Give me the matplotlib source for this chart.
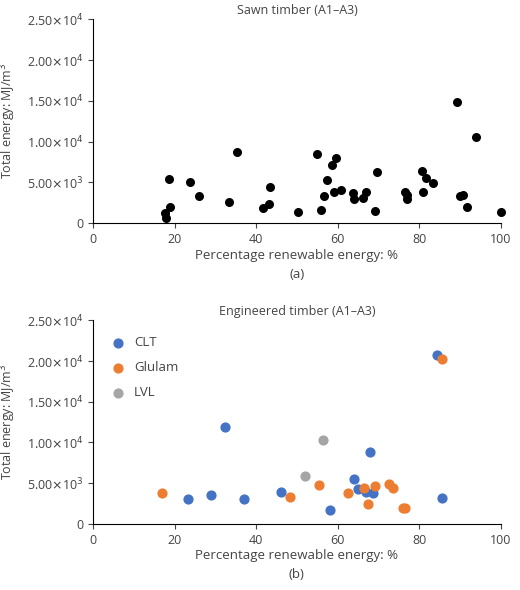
import matplotlib
matplotlib.use('Agg')
import matplotlib.pyplot as plt
from matplotlib.ticker import FuncFormatter

plt.rcParams['font.family'] = ['Open Sans', 'DejaVu Sans']

# Sawn timber
sawn_x = [17.7, 18.0, 18.7, 18.9, 23.7, 26.0, 33.4, 35.2, 41.6, 43.1, 43.5, 50.2, 54.9, 55.8,
          56.6, 57.5, 58.6, 59.2, 59.6, 60.8, 63.8, 63.9, 66.1, 67.0, 69.1, 69.6, 76.6, 77.0,
          77.0, 80.6, 81.0, 81.6, 83.3, 89.2, 90.0, 90.7, 91.6, 93.9, 100.0]
sawn_y = [1240, 620, 5400, 1980, 4980, 3380, 2600, 8760, 1900, 2380, 4400, 1320, 8520, 1560,
          3260, 5260, 7120, 3780, 7940, 4040, 3700, 2960, 3040, 3780, 1480, 6220, 3780, 3460,
          2920, 6340, 3860, 5480, 4860, 14900, 3260, 3500, 2020, 10580, 1320]

# Engineered timber
clt_x = [84.4, 32.3, 68.0, 64.1, 65.0, 67.0, 68.7, 46.2, 23.3, 29.0, 37.0, 58.0, 85.6]
clt_y = [20780, 11880, 8860, 5510, 4260, 3930, 3810, 3890, 3060, 3520, 3100, 1740, 3190]
glulam_x = [85.5, 16.8, 48.4, 55.4, 62.6, 66.5, 67.4, 69.1, 72.7, 73.5, 75.9, 76.4]
glulam_y = [20240, 3810, 3270, 4840, 3810, 4470, 2400, 4680, 4930, 4430, 1950, 1950]
lvl_x = [56.3, 52.0]
lvl_y = [10350, 5880]

text_col = '#444444'


def sci(v, pos):
    if v == 0:
        return '0'
    e = len(str(int(v))) - 1
    return r'%.2f$\times$10$^{%d}$' % (v / 10 ** e, e)


fig = plt.figure(figsize=(5.2, 5.9), dpi=100)
ax1 = fig.add_axes([0.179, 0.622, 0.784, 0.345])
ax2 = fig.add_axes([0.179, 0.112, 0.784, 0.345])

ax1.scatter(sawn_x, sawn_y, s=30, color='black', zorder=3, clip_on=False)
ax2.scatter(clt_x, clt_y, s=40, color='#4472c4', label='CLT', zorder=3)
ax2.scatter(glulam_x, glulam_y, s=40, color='#ed7d31', label='Glulam', zorder=3)
ax2.scatter(lvl_x, lvl_y, s=40, color='#a5a5a5', label='LVL', zorder=3)

for ax, title, sub in [(ax1, 'Sawn timber (A1–A3)', '(a)'), (ax2, 'Engineered timber (A1–A3)', '(b)')]:
    ax.set_xlim(0, 100)
    ax.set_ylim(0, 25000)
    ax.set_xticks(range(0, 101, 20))
    ax.set_yticks(range(0, 25001, 5000))
    ax.yaxis.set_major_formatter(FuncFormatter(sci))
    ax.spines['top'].set_visible(False)
    ax.spines['right'].set_visible(False)
    ax.tick_params(colors=text_col, labelsize=9, direction='out')
    ax.set_title(title, fontsize=9, color=text_col, pad=4)
    ax.set_ylabel('Total energy: MJ/m$^3$', fontsize=9, color=text_col, labelpad=6)
    ax.set_xlabel('Percentage renewable energy: %\n' + sub, fontsize=9.5, color=text_col,
                  linespacing=1.6, labelpad=2)

ax2.legend(loc='upper left', frameon=False, fontsize=9.5, handletextpad=0.2, labelspacing=0.9,
           labelcolor=text_col, bbox_to_anchor=(0.0, 0.98))

fig.savefig('out.png', dpi=100)
